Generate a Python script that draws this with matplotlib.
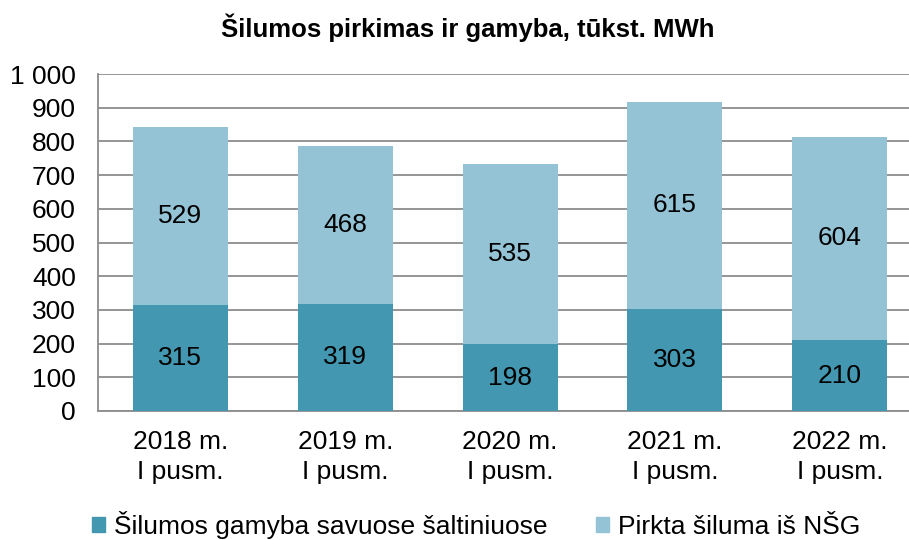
import matplotlib.pyplot as plt
from matplotlib.patches import Patch

plt.rcParams['font.family'] = ['Liberation Sans', 'DejaVu Sans']

categories = ['2018 m.\nI pusm.', '2019 m.\nI pusm.', '2020 m.\nI pusm.', '2021 m.\nI pusm.', '2022 m.\nI pusm.']
own = [315, 319, 198, 303, 210]
bought = [529, 468, 535, 615, 604]
yticks = [0, 100, 200, 300, 400, 500, 600, 700, 800, 900, 1000]
ylabels = ['0', '100', '200', '300', '400', '500', '600', '700', '800', '900', '1 000']

c_own = '#4397b0'
c_buy = '#93c3d5'

fig = plt.figure(figsize=(9.09, 5.4), dpi=100)
ax = fig.add_axes([0.1078, 0.2389, 0.8922, 0.624])

x = range(len(categories))
ax.bar(x, own, width=0.576, color=c_own, zorder=3)
ax.bar(x, bought, width=0.576, bottom=own, color=c_buy, zorder=3)

for i in x:
    ax.text(i, own[i] / 2, str(own[i]), ha='center', va='center', fontsize=19, zorder=4)
    ax.text(i, own[i] + bought[i] / 2, str(bought[i]), ha='center', va='center', fontsize=19, zorder=4)

ax.set_xlim(-0.5, 4.42)
ax.set_ylim(0, 1000)
ax.set_yticks(yticks)
ax.set_yticklabels(ylabels, fontsize=19)
ax.set_xticks(list(x))
ax.set_xticklabels(categories, fontsize=19, linespacing=1.3)
ax.tick_params(axis='y', length=0, pad=16)
ax.tick_params(axis='x', length=0, pad=14)
ax.grid(axis='y', color='#8c8c8c', linewidth=1.3, zorder=0)
for s in ['top', 'right']:
    ax.spines[s].set_visible(False)
for s in ['left', 'bottom']:
    ax.spines[s].set_color('#8c8c8c')
    ax.spines[s].set_linewidth(1.3)

fig.text(0.515, 0.948, 'Šilumos pirkimas ir gamyba, tūkst. MWh', ha='center', va='center',
         fontsize=18.5, fontweight='bold')

handles = [Patch(color=c_own, label='Šilumos gamyba savuose šaltiniuose'),
           Patch(color=c_buy, label='Pirkta šiluma iš NŠG')]
fig.legend(handles=handles, loc='center', bbox_to_anchor=(0.524, 0.028), ncol=2, frameon=False,
           fontsize=19, handlelength=0.5, handleheight=0.5, handletextpad=0.34, columnspacing=1.85,
           borderpad=0)

fig.savefig('out.png', dpi=100)
